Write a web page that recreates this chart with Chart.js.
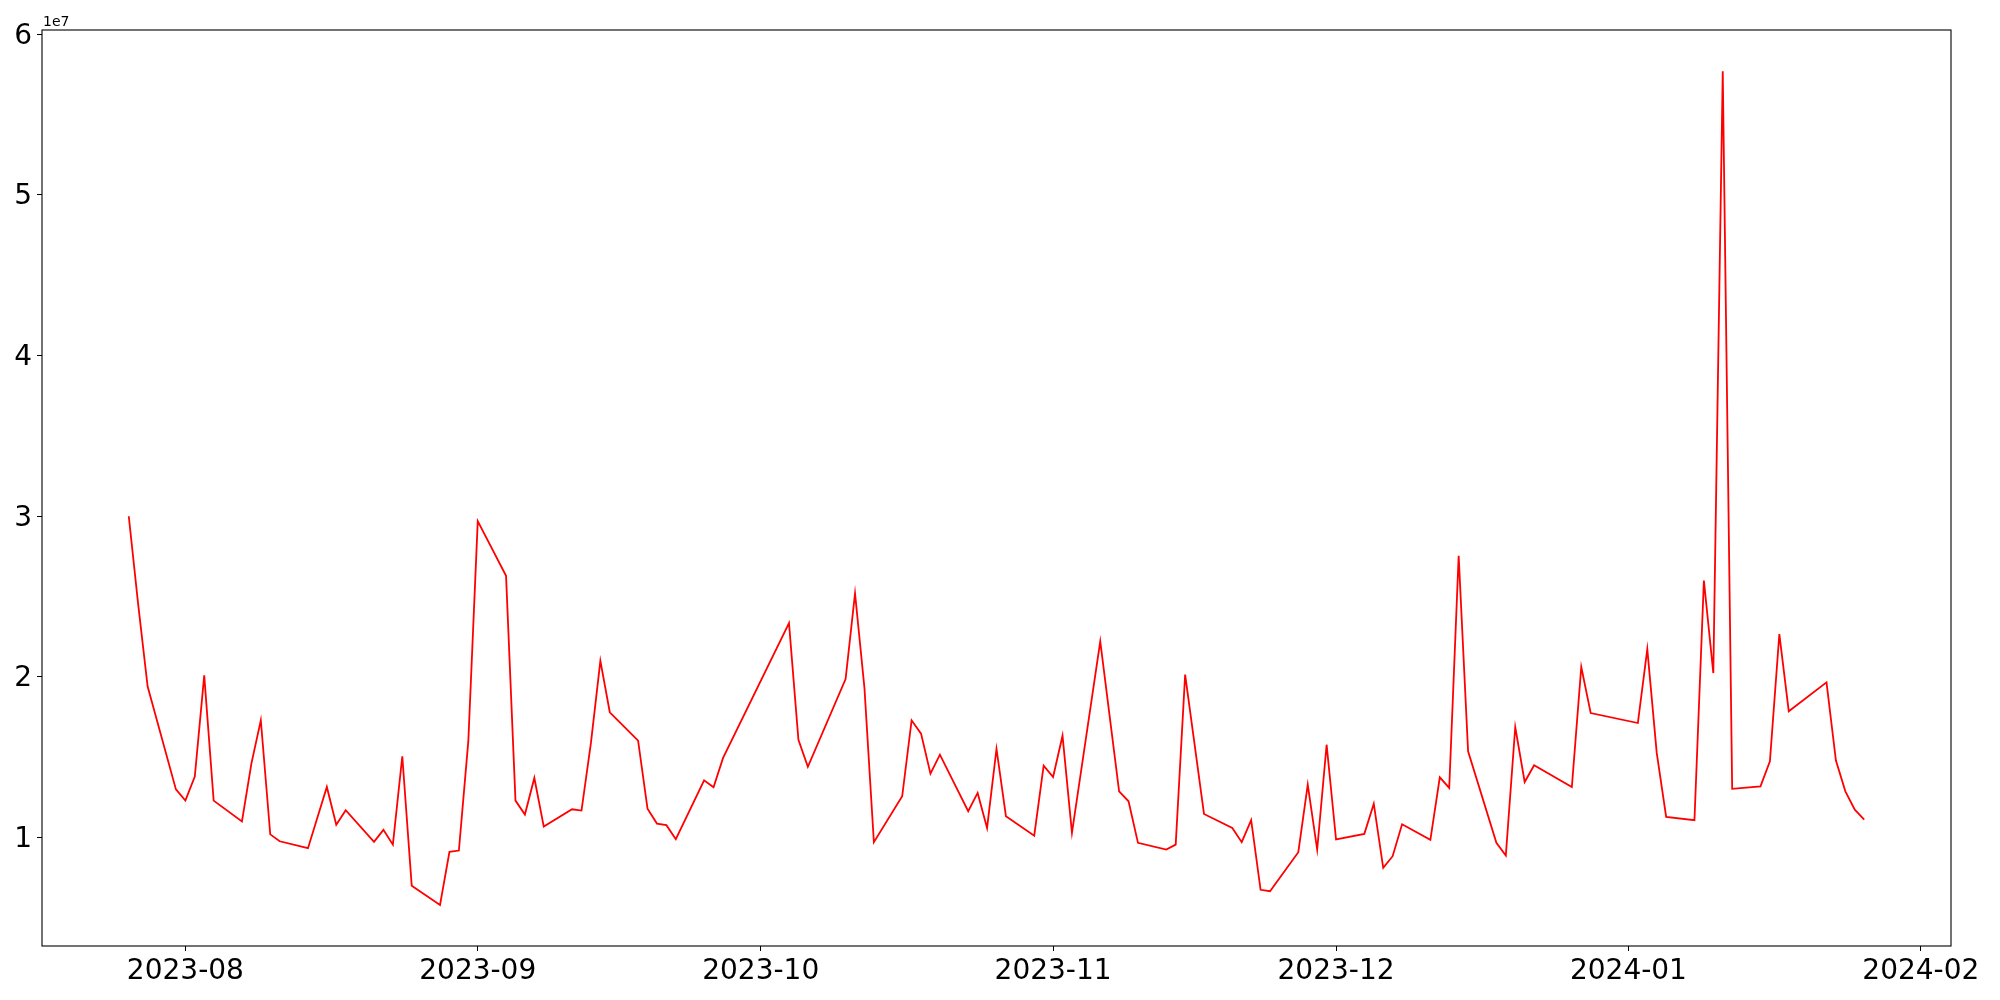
<!DOCTYPE html>
<html>
<head>
<meta charset="utf-8">
<script src="https://cdn.jsdelivr.net/npm/chart.js@4/dist/chart.umd.min.js"></script>
<style>
  body { margin: 0; background: #fff; }
  canvas { display: block; }
</style>
</head>
<body>
<canvas id="volChart" width="2000" height="1000"></canvas>
<script>
// dates of each observation (gaps are days with no data)
const dates = [
  "2023-07-26","2023-07-27","2023-07-28","2023-07-31",
  "2023-08-01","2023-08-02","2023-08-03","2023-08-04",
  "2023-08-07","2023-08-08","2023-08-09","2023-08-10","2023-08-11",
  "2023-08-14","2023-08-16","2023-08-17","2023-08-18",
  "2023-08-21","2023-08-22","2023-08-23","2023-08-24","2023-08-25",
  "2023-08-28","2023-08-29","2023-08-30","2023-08-31","2023-09-01",
  "2023-09-04","2023-09-05","2023-09-06","2023-09-07","2023-09-08",
  "2023-09-11","2023-09-12","2023-09-13","2023-09-14","2023-09-15",
  "2023-09-18","2023-09-19","2023-09-20","2023-09-21","2023-09-22",
  "2023-09-25","2023-09-26","2023-09-27",
  "2023-10-04","2023-10-05","2023-10-06",
  "2023-10-10","2023-10-11","2023-10-12","2023-10-13",
  "2023-10-16","2023-10-17","2023-10-18","2023-10-19","2023-10-20",
  "2023-10-23","2023-10-24","2023-10-25","2023-10-26","2023-10-27",
  "2023-10-30","2023-10-31","2023-11-01","2023-11-02","2023-11-03",
  "2023-11-06","2023-11-08","2023-11-09","2023-11-10",
  "2023-11-13","2023-11-14","2023-11-15","2023-11-17",
  "2023-11-20","2023-11-21","2023-11-22","2023-11-23","2023-11-24",
  "2023-11-27","2023-11-28","2023-11-29","2023-11-30","2023-12-01",
  "2023-12-04","2023-12-05","2023-12-06","2023-12-07","2023-12-08",
  "2023-12-11","2023-12-12","2023-12-13","2023-12-14","2023-12-15",
  "2023-12-18","2023-12-19","2023-12-20","2023-12-21","2023-12-22",
  "2023-12-26","2023-12-27","2023-12-28",
  "2024-01-02","2024-01-03","2024-01-04","2024-01-05",
  "2024-01-08","2024-01-09","2024-01-10","2024-01-11","2024-01-12",
  "2024-01-15","2024-01-16","2024-01-17","2024-01-18",
  "2024-01-22","2024-01-23","2024-01-24","2024-01-25","2024-01-26"
];

const volumes = [
  30000000, 24500000, 19400000, 13000000,
  12300000, 13800000, 20100000, 12300000,
  11000000, 14600000, 17300000, 10200000, 9770000,
  9340000, 13150000, 10800000, 11700000,
  9730000, 10480000, 9560000, 15060000, 7000000,
  5810000, 9110000, 9190000, 16000000, 29700000,
  26300000, 12300000, 11430000, 13710000, 10680000,
  11760000, 11680000, 15890000, 21000000, 17800000,
  16030000, 11800000, 10870000, 10770000, 9900000,
  13560000, 13130000, 14940000,
  23350000, 16090000, 14400000,
  19870000, 25200000, 19310000, 9710000,
  12570000, 17300000, 16470000, 13980000, 15160000,
  11640000, 12780000, 10600000, 15520000, 11330000,
  10120000, 14480000, 13770000, 16340000, 10290000,
  22210000, 12880000, 12260000, 9670000,
  9250000, 9560000, 20140000, 11470000,
  10600000, 9710000, 11080000, 6750000, 6660000,
  9090000, 13300000, 9250000, 15780000, 9880000,
  10230000, 12110000, 8110000, 8840000, 10830000,
  9860000, 13750000, 13090000, 27540000, 15370000,
  9670000, 8880000, 16880000, 13460000, 14500000,
  13150000, 20620000, 17750000,
  17130000, 21730000, 15270000, 11290000,
  11080000, 26000000, 20240000, 57700000, 13030000,
  13190000, 14750000, 22670000, 17860000,
  19660000, 14790000, 12880000, 11740000, 11120000
];

// axis ticks
const monthTicks = ["2023-08","2023-09","2023-10","2023-11","2023-12","2024-01","2024-02"];
const yTicks = [1, 2, 3, 4, 5, 6];
const yExponent = 7;

const points = dates.map((d, i) => ({ x: Date.parse(d), y: volumes[i] }));
const firstX = points[0].x;
const lastX = points[points.length - 1].x;
const xPad = (lastX - firstX) * 0.05;
const scaleF = Math.pow(10, yExponent);

const FONT = "'DejaVu Sans', 'Liberation Sans', sans-serif";

// frame around the plot + the "1e7" offset label
const framePlugin = {
  id: "frame",
  afterDraw(chart) {
    const { ctx, chartArea: a } = chart;
    ctx.save();
    ctx.strokeStyle = "#000";
    ctx.lineWidth = 1.1;
    ctx.strokeRect(a.left, a.top, a.right - a.left, a.bottom - a.top);
    ctx.fillStyle = "#000";
    ctx.font = "14px " + FONT;
    ctx.textAlign = "left";
    ctx.textBaseline = "alphabetic";
    ctx.fillText("1e" + yExponent, a.left + 1, a.top - 4);
    ctx.restore();
  }
};

new Chart(document.getElementById("volChart"), {
  type: "line",
  data: {
    datasets: [{
      data: points,
      borderColor: "#ff0000",
      borderWidth: 1.8,
      pointRadius: 0,
      tension: 0,
      fill: false
    }]
  },
  options: {
    responsive: false,
    animation: false,
    events: [],
    layout: { padding: { left: 0, right: 49, top: 30, bottom: 0 } },
    plugins: { legend: { display: false }, tooltip: { enabled: false } },
    scales: {
      x: {
        type: "linear",
        min: firstX - xPad,
        max: lastX + xPad,
        afterBuildTicks(scale) {
          scale.ticks = monthTicks.map(m => ({ value: Date.parse(m + "-01") }));
        },
        afterFit(scale) { scale.height = 54; },
        border: { display: false },
        grid: { drawOnChartArea: false, drawTicks: true, tickLength: 5, color: "#000", lineWidth: 1 },
        ticks: {
          autoSkip: false,
          maxRotation: 0,
          padding: 4,
          color: "#000",
          font: { family: FONT, size: 28 },
          callback(v) {
            const d = new Date(v);
            return d.getUTCFullYear() + "-" + String(d.getUTCMonth() + 1).padStart(2, "0");
          }
        }
      },
      y: {
        type: "linear",
        min: 0.325 * scaleF,
        max: 6.027 * scaleF,
        afterBuildTicks(scale) {
          scale.ticks = yTicks.map(t => ({ value: t * scaleF }));
        },
        afterFit(scale) { scale.width = 42; },
        border: { display: false },
        grid: { drawOnChartArea: false, drawTicks: true, tickLength: 5, color: "#000", lineWidth: 1 },
        ticks: {
          padding: 5,
          labelOffset: 2,
          color: "#000",
          font: { family: FONT, size: 28 },
          callback(v) { return String(Math.round(v / scaleF)); }
        }
      }
    }
  },
  plugins: [framePlugin]
});
</script>
</body>
</html>
